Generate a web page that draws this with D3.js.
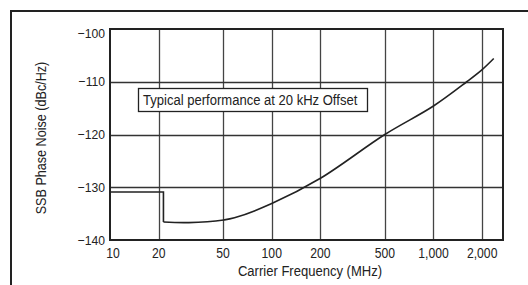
<!DOCTYPE html>
<html>
<head>
<meta charset="utf-8">
<script src="https://cdn.jsdelivr.net/npm/d3@7"></script>
<style>
  body { margin: 0; background: #fff; }
  text { font-family: "Liberation Sans", Arial, sans-serif; fill: #222; }
</style>
</head>
<body>
<div class="container"></div>
<script>
// carrier frequency (MHz) and SSB phase noise (dBc/Hz)
let freqs = [10, 21.4, 21.4, 30.7, 50.5, 58.8, 100, 200, 500, 1000, 1606, 2000, 2358];
let noise = [-130.9, -130.9, -136.6, -136.7, -136.2, -135.8, -133.1, -128.3, -120.0, -114.6, -110.0, -107.7, -105.6];

let xTicks = [10, 20, 50, 100, 200, 500, 1000, 2000];
let xTickLabels = ["10", "20", "50", "100", "200", "500", "1,000", "2,000"];
let yTicks = [-140, -130, -120, -110, -100];
let yTickLabels = ["\u2212140", "\u2212130", "\u2212120", "\u2212110", "\u2212100"];

let W = 528, H = 285;
let margin = {top: 29, right: 25, bottom: 45, left: 110},
  width = W - margin.left - margin.right,
  height = H - margin.top - margin.bottom;

let x = d3.scaleLog().domain([10, 2690]).range([0, width]);
let y = d3.scaleLinear().domain([-140, -100]).range([height, 0]);

let svg = d3.select(".container").append("svg")
    .attr("width", W)
    .attr("height", H);

// condensed look: squeeze Liberation Sans horizontally
function label(parent, tx, ty, str, size, sq, anchor, rot) {
  return parent.append("text")
    .attr("transform", "translate(" + tx + "," + ty + ")" + (rot ? " rotate(" + rot + ")" : "") + " scale(" + sq + ",1)")
    .attr("text-anchor", anchor || "start")
    .style("font-size", size + "px")
    .text(str);
}

// outer frame (top and left edges only show)
svg.append("path")
  .attr("d", "M11,285 L11,11 L528,11")
  .attr("fill", "none")
  .attr("stroke", "#222")
  .attr("stroke-width", 2);

let g = svg.append("g")
  .attr("transform", "translate(" + margin.left + "," + margin.top + ")");

// grid
g.selectAll(".vgrid")
  .data(xTicks.slice(1))
  .enter().append("line")
    .attr("x1", (d) => Math.round(x(d)) + 0.5)
    .attr("x2", (d) => Math.round(x(d)) + 0.5)
    .attr("y1", 0)
    .attr("y2", height)
    .attr("stroke", "#444")
    .attr("stroke-width", 1.3);

g.selectAll(".hgrid")
  .data(yTicks.slice(1, -1))
  .enter().append("line")
    .attr("x1", 0)
    .attr("x2", width)
    .attr("y1", (d) => Math.round(y(d)) + 0.5)
    .attr("y2", (d) => Math.round(y(d)) + 0.5)
    .attr("stroke", "#333")
    .attr("stroke-width", 1.3);

// plot frame
g.append("rect")
  .attr("x", 0)
  .attr("y", 0)
  .attr("width", width)
  .attr("height", height)
  .attr("fill", "none")
  .attr("stroke", "#222")
  .attr("stroke-width", 2);

// tick labels
xTicks.forEach((d, i) => {
  label(g, x(d) + (d === 10 ? 3 : 0), height + 18, xTickLabels[i], 14.5, 0.84, "middle");
});
yTicks.forEach((d, i) => {
  label(g, -5, y(d) + (d === -100 ? 8.5 : 4.5), yTickLabels[i], 13.5, 0.9, "end");
});

// axis titles
label(svg, 310, 276, "Carrier Frequency (MHz)", 15, 0.87, "middle");
label(svg, 46, 138, "SSB Phase Noise (dBc/Hz)", 15, 0.84, "middle", -90);

// legend box
g.append("rect")
  .attr("x", 28.5)
  .attr("y", 59.5)
  .attr("width", 229)
  .attr("height", 23)
  .attr("fill", "#fff")
  .attr("stroke", "#222")
  .attr("stroke-width", 1.3);

label(g, 33, 76, "Typical performance at 20 kHz Offset", 15, 0.87, "start");

// curve: step part linear, the rest smoothed
let pts = freqs.map((f, i) => [f, noise[i]]);
let stepLine = d3.line()
  .x((d) => x(d[0]))
  .y((d) => y(d[1]));
let smoothLine = d3.line()
  .x((d) => x(d[0]))
  .y((d) => y(d[1]))
  .curve(d3.curveCatmullRom.alpha(0.5));

g.append("path")
  .attr("d", stepLine(pts.slice(0, 3)))
  .attr("fill", "none")
  .attr("stroke", "#222")
  .attr("stroke-width", 1.6);

g.append("path")
  .attr("d", smoothLine(pts.slice(2)))
  .attr("fill", "none")
  .attr("stroke", "#222")
  .attr("stroke-width", 1.6);
</script>
</body>
</html>
